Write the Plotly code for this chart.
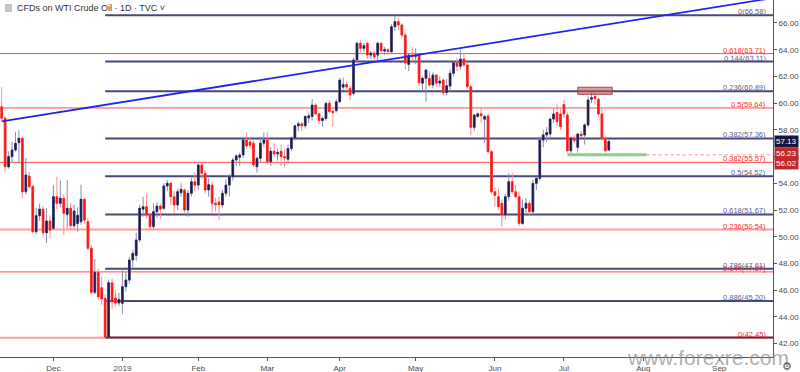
import pandas as pd
import plotly.graph_objects as go

# ---------------- data ----------------
# trading calendar (weekdays, without Christmas / New Year)
holidays = ["2018-12-25", "2019-01-01"]
dates = [d for d in pd.bdate_range("2018-11-12", "2019-10-31")
         if d.strftime("%Y-%m-%d") not in holidays]

opens = [59.73, 58.87, 55.24, 55.99, 56.49, 57.04, 57.37, 53.37, 54.55, 53.75,
         50.38, 51.58, 52.06, 50.30, 51.18, 50.63, 53.00, 52.50, 52.88, 51.68,
         52.13, 50.83, 51.00, 51.13, 52.80, 51.13, 49.14, 45.84, 47.34, 46.19,
         45.39, 42.50, 46.56, 45.41, 45.04, 45.02, 46.26, 46.76, 48.26, 48.60,
         49.76, 52.06, 52.25, 51.63, 50.76, 51.88, 52.30, 52.13, 53.80, 54.00,
         53.00, 52.38, 53.30, 53.50, 52.00, 53.25, 54.12, 53.87, 55.37, 54.75,
         53.50, 53.87, 52.50, 52.60, 52.38, 53.25, 53.87, 54.50, 55.75, 55.95,
         56.12, 57.24, 57.10, 57.00, 55.24, 55.87, 57.00, 57.24, 55.62, 56.40,
         56.20, 56.40, 56.00, 55.80, 56.60, 57.40, 58.30, 58.45, 58.30, 58.90,
         59.00, 59.86, 59.20, 58.70, 58.85, 59.99, 59.40, 59.44, 60.11, 61.20,
         61.40, 61.10, 60.74, 63.23, 64.48, 64.10, 64.48, 63.60, 63.75, 63.60,
         64.48, 63.90, 64.00, 63.85, 65.72, 66.10, 65.85, 65.10, 62.90, 63.60,
         63.50, 63.60, 61.49, 61.86, 61.86, 61.36, 62.10, 61.50, 61.73, 60.79,
         61.28, 62.23, 63.03, 62.76, 63.30, 62.86, 61.23, 58.19, 59.00, 59.20,
         58.80, 59.04, 56.37, 53.37, 53.00, 52.50, 51.63, 53.00, 54.12, 53.37,
         53.00, 51.00, 52.13, 52.50, 51.88, 54.00, 54.37, 57.24, 57.62, 57.69,
         58.81, 59.30, 59.19, 59.90, 59.11, 56.44, 57.37, 56.70, 57.69, 57.62,
         58.37, 60.30, 60.50, 60.29, 59.19, 57.37, 56.49]
highs = [61.20, 59.00, 56.40, 57.10, 57.86, 57.99, 57.50, 55.90, 54.85, 53.90,
         52.13, 52.50, 52.30, 52.13, 51.60, 53.87, 54.50, 54.20, 53.20, 54.25,
         52.50, 52.40, 52.20, 53.90, 52.90, 51.40, 49.40, 48.33, 47.60, 47.00,
         45.70, 46.80, 46.90, 46.00, 45.80, 47.60, 47.40, 48.50, 49.00, 50.30,
         52.40, 53.00, 53.25, 51.70, 52.50, 52.60, 52.50, 54.00, 54.25, 54.10,
         53.40, 53.60, 54.00, 53.60, 53.50, 54.40, 54.80, 55.60, 55.60, 55.00,
         54.40, 54.10, 52.90, 53.00, 53.50, 54.30, 54.70, 55.90, 56.20, 56.30,
         57.30, 57.80, 57.40, 57.20, 56.00, 57.50, 57.80, 57.86, 56.70, 57.00,
         56.60, 56.90, 56.60, 56.90, 57.50, 58.40, 58.60, 58.60, 59.10, 59.30,
         60.30, 60.00, 59.30, 59.00, 60.10, 60.20, 59.60, 60.30, 61.90, 61.90,
         61.60, 61.30, 63.40, 64.60, 64.70, 64.50, 64.60, 63.90, 63.90, 64.60,
         64.60, 64.20, 64.10, 65.90, 66.58, 66.40, 66.00, 65.30, 63.70, 64.20,
         64.10, 63.70, 62.00, 62.50, 62.40, 62.30, 62.20, 62.00, 61.90, 61.80,
         62.50, 63.20, 63.40, 64.00, 63.80, 63.00, 61.40, 59.20, 59.30, 59.70,
         59.10, 59.20, 56.50, 53.70, 53.60, 52.80, 53.20, 54.75, 54.80, 53.90,
         53.40, 52.80, 52.90, 52.70, 54.30, 54.50, 57.50, 58.00, 58.20, 58.90,
         59.60, 59.90, 59.60, 60.24, 59.30, 57.50, 57.60, 57.80, 57.90, 58.50,
         60.50, 60.81, 60.81, 60.40, 59.60, 57.50, 57.30]
lows = [58.70, 54.87, 55.10, 55.60, 56.37, 55.50, 52.90, 53.20, 53.60, 50.28,
        50.18, 51.20, 50.00, 49.53, 49.90, 50.50, 52.10, 52.20, 50.13, 50.63,
        50.50, 50.60, 50.40, 50.90, 51.00, 49.00, 45.70, 45.70, 45.30, 44.90,
        42.45, 42.45, 44.60, 44.77, 44.80, 44.20, 45.90, 46.50, 47.60, 48.20,
        49.60, 51.50, 51.40, 50.50, 50.60, 51.40, 51.30, 52.00, 53.40, 52.40,
        51.80, 52.00, 53.00, 51.80, 51.50, 53.00, 53.40, 53.50, 54.30, 53.20,
        53.00, 51.80, 51.90, 51.25, 52.20, 53.00, 53.00, 54.20, 55.30, 55.30,
        55.90, 56.60, 56.60, 55.20, 54.80, 55.60, 56.70, 55.40, 55.30, 56.00,
        55.70, 55.30, 55.20, 55.50, 56.40, 57.20, 57.90, 57.90, 58.10, 58.50,
        58.70, 59.10, 58.40, 58.24, 58.70, 59.20, 58.24, 59.30, 60.00, 61.00,
        60.90, 60.24, 60.60, 63.00, 63.80, 63.80, 63.30, 63.30, 63.20, 63.20,
        63.80, 63.60, 63.80, 63.70, 65.40, 65.50, 64.90, 62.50, 62.40, 63.00,
        62.90, 61.30, 60.90, 60.11, 61.20, 61.10, 61.20, 61.20, 60.60, 60.60,
        60.90, 62.00, 62.40, 62.50, 62.70, 61.10, 57.60, 57.90, 58.90, 58.50,
        57.00, 56.20, 53.20, 52.25, 52.00, 50.76, 51.30, 52.70, 53.20, 52.90,
        50.80, 50.90, 51.60, 51.60, 51.60, 53.50, 54.20, 56.70, 57.10, 57.20,
        58.50, 58.30, 58.00, 58.90, 56.30, 56.12, 57.00, 56.30, 57.40, 56.90,
        58.20, 60.00, 59.90, 59.00, 57.20, 56.29, 56.40]
closes = [58.87, 55.24, 56.00, 56.49, 56.99, 57.37, 53.37, 54.62, 53.75, 50.38,
          51.58, 52.06, 50.30, 51.18, 50.50, 53.00, 52.50, 52.88, 51.76, 52.13,
          50.83, 51.93, 51.60, 52.80, 51.25, 49.14, 45.84, 47.34, 45.51, 45.34,
          42.50, 46.56, 45.14, 45.04, 45.30, 46.26, 46.76, 48.26, 48.76, 49.76,
          52.13, 52.25, 51.63, 50.76, 51.88, 52.30, 52.07, 53.80, 54.00, 53.00,
          52.38, 53.37, 53.55, 52.00, 53.25, 54.12, 53.85, 55.37, 54.75, 53.50,
          53.90, 52.50, 52.40, 52.40, 53.25, 53.87, 54.50, 55.75, 56.05, 56.12,
          57.24, 56.79, 56.85, 55.37, 55.87, 57.00, 57.24, 55.62, 56.40, 56.20,
          56.30, 56.00, 55.90, 56.60, 57.40, 58.30, 58.45, 58.30, 59.00, 59.05,
          59.86, 59.20, 58.70, 58.85, 59.99, 59.37, 59.30, 60.10, 61.73, 61.40,
          61.20, 60.61, 63.23, 64.48, 64.10, 64.30, 63.60, 63.75, 63.45, 64.48,
          63.90, 64.00, 63.85, 65.72, 66.10, 65.85, 65.10, 63.00, 63.60, 63.50,
          63.60, 61.53, 61.86, 62.48, 61.36, 62.10, 61.50, 61.65, 60.79, 61.30,
          62.23, 63.03, 62.76, 63.30, 62.86, 61.23, 58.19, 59.11, 59.20, 59.05,
          59.00, 56.37, 53.37, 53.10, 52.25, 51.63, 53.00, 54.12, 53.37, 53.00,
          51.00, 52.13, 52.50, 51.88, 54.00, 54.37, 57.24, 57.62, 57.80, 58.81,
          59.19, 58.60, 58.24, 59.19, 56.44, 57.37, 57.20, 57.69, 57.55, 58.37,
          60.24, 60.40, 60.35, 59.19, 57.37, 56.44, 57.13]

# Fibonacci retracement (dark): 66.58 high -> 42.46 low
dark_ratios = ["0", "0.144", "0.236", "0.382", "0.5", "0.618", "0.786", "0.886"]
dark_levels = [66.58, 63.11, 60.89, 57.36, 54.52, 51.67, 47.61, 45.20]
dark_base = 42.46
dark_start_date = "2018-12-24"

# Fibonacci retracement (red)
red_ratios = ["0.618", "0.5", "0.382", "0.236", "0.144", "0"]
red_levels = [63.71, 59.64, 55.57, 50.54, 47.37, 42.45]

# trend line anchors (date, price)
trend_dates = ["2018-11-12", "2019-10-31"]
trend_prices = [58.63, 69.00]

# resistance box and support line
box_dates = ["2019-07-05", "2019-07-19"]
box_prices = [60.66, 61.19]
support_dates = ["2019-07-02", "2019-08-02"]
support_price = 56.13

# price scale labels
last_price = 57.13
marker_labels = ["56.23", "56.02"]
marker_prices = [56.23, 55.45]

x_start_date = "2018-11-12"

# ---------------- helpers ----------------
date_str = [d.strftime("%Y-%m-%d") for d in dates]
def idx(s):
    return date_str.index(s)

n = len(closes)
x = list(range(n))
x0 = idx(x_start_date) - 0.49
x1 = x0 + 224.1

tickvals, ticktext = [], []
for i in range(1, len(dates)):
    if dates[i].month != dates[i - 1].month and x0 <= i <= x1:
        tickvals.append(i)
        ticktext.append("2019" if dates[i].month == 1 else dates[i].strftime("%b"))

UP = "#1c1c52"
DOWN = "#ff1414"
UP_WICK = "#8c8cae"
DOWN_WICK = "#ff8c8c"

fig = go.Figure()

# wicks
fig.add_trace(go.Candlestick(
    x=x, open=opens, high=highs, low=lows, close=closes,
    increasing=dict(line=dict(color=UP_WICK, width=1), fillcolor=UP_WICK),
    decreasing=dict(line=dict(color=DOWN_WICK, width=1), fillcolor=DOWN_WICK),
    whiskerwidth=0, showlegend=False, hoverinfo="skip"))
# bodies
body_hi = [max(o, c) for o, c in zip(opens, closes)]
body_lo = [min(o, c) for o, c in zip(opens, closes)]
fig.add_trace(go.Candlestick(
    x=x, open=opens, high=body_hi, low=body_lo, close=closes,
    increasing=dict(line=dict(color=UP, width=0.6), fillcolor=UP),
    decreasing=dict(line=dict(color=DOWN, width=0.6), fillcolor=DOWN),
    whiskerwidth=0, showlegend=False))

# trend line
fig.add_trace(go.Scatter(
    x=[idx(d) for d in trend_dates], y=trend_prices, mode="lines",
    line=dict(color="#2222f0", width=1.8), showlegend=False, hoverinfo="skip"))

shapes = []
annotations = []
label_font = "Liberation Sans, Arial, sans-serif"
lab_x = 768 / 773

# red fib
thick_red = {50.54, 42.45}
for r, lv in zip(red_ratios, red_levels):
    thick = lv in thick_red
    shapes.append(dict(type="line", xref="paper", yref="y", x0=0, x1=1, y0=lv, y1=lv,
                       line=dict(color="#ff9c9c" if thick else "#ff4a4a",
                                 width=2 if thick else 1), layer="below"))
    annotations.append(dict(xref="paper", yref="y", x=lab_x, y=lv, xanchor="right",
                            yanchor="bottom", yshift=-3, showarrow=False,
                            text=f"{r}({lv:.2f})",
                            font=dict(size=7.5, color="#ff2a2a", family=label_font)))

# dark fib
ds = idx(dark_start_date)
for r, lv in zip(dark_ratios, dark_levels):
    shapes.append(dict(type="line", xref="x", yref="y", x0=ds, x1=x1 + 5, y0=lv, y1=lv,
                       line=dict(color="#48487a", width=2), layer="below"))
    annotations.append(dict(xref="paper", yref="y", x=lab_x, y=lv, xanchor="right",
                            yanchor="bottom", yshift=-3, showarrow=False,
                            text=f"{r}({lv:.2f})",
                            font=dict(size=7.5, color="#5e5e8e", family=label_font)))
shapes.append(dict(type="line", xref="x", yref="y", x0=ds, x1=x1 + 5, y0=dark_base, y1=dark_base,
                   line=dict(color="#5a2a4a", width=2), layer="below"))

# resistance box
shapes.append(dict(type="rect", xref="x", yref="y",
                   x0=idx(box_dates[0]), x1=idx(box_dates[1]),
                   y0=box_prices[0], y1=box_prices[1],
                   fillcolor="rgba(190,80,80,0.55)", line=dict(color="#a84848", width=1)))
# support line
sx0, sx1 = idx(support_dates[0]), idx(support_dates[1])
shapes.append(dict(type="line", xref="x", yref="y", x0=sx0, x1=sx1,
                   y0=support_price, y1=support_price,
                   line=dict(color="#86cf86", width=3)))
shapes.append(dict(type="line", xref="x", yref="y", x0=sx1, x1=x1 + 5,
                   y0=support_price, y1=support_price,
                   line=dict(color="#ff8a8a", width=1, dash="dot")))

# title icon
shapes.append(dict(type="rect", xref="paper", yref="paper",
                   x0=5 / 773, x1=12 / 773, y0=1 - 12 / 357, y1=1 - 4 / 357,
                   fillcolor="#c4c4c4", line=dict(width=0)))

annotations.append(dict(xref="paper", yref="paper", x=15 / 773, y=1 - 8 / 357,
                        xanchor="left", yanchor="middle", showarrow=False,
                        text="CFDs on WTI Crude Oil · 1D · TVC ˅",
                        font=dict(size=9, color="#333333", family=label_font)))

# price-scale markers
annotations.append(dict(xref="paper", yref="y", x=1.0, y=last_price, xanchor="left",
                        yanchor="middle", showarrow=False, text=f"{last_price:.2f}",
                        bgcolor="#16163e", borderpad=1, xshift=1,
                        font=dict(size=8, color="white", family=label_font)))
for t, p in zip(marker_labels, marker_prices):
    annotations.append(dict(xref="paper", yref="y", x=1.0, y=p, xanchor="left",
                            yanchor="middle", showarrow=False, text=t,
                            bgcolor="#c4282c", borderpad=1, xshift=1,
                            font=dict(size=8, color="white", family=label_font)))

# watermark and gear
annotations.append(dict(xref="paper", yref="paper", x=708 / 773, y=0,
                        xanchor="center", yanchor="middle", showarrow=False,
                        text="www.forexre.com",
                        font=dict(size=21, color="rgba(140,140,140,0.7)", family=label_font)))
annotations.append(dict(xref="paper", yref="paper", x=787 / 773, y=(357 - 366) / 357,
                        xanchor="center", yanchor="middle", showarrow=False,
                        text="⚙", font=dict(size=11, color="#555555")))

fig.update_layout(
    width=800, height=372, autosize=False,
    margin=dict(l=0, r=27, t=0, b=15, pad=0),
    paper_bgcolor="white", plot_bgcolor="white",
    shapes=shapes, annotations=annotations,
    xaxis=dict(range=[x0, x1], rangeslider=dict(visible=False), showgrid=False,
               zeroline=False, showline=True, linecolor="#555555", linewidth=1,
               tickvals=tickvals, ticktext=ticktext, ticks="outside", ticklen=3,
               tickcolor="#555555", automargin=False,
               tickfont=dict(size=8, color="#4a4a4a", family=label_font)),
    yaxis=dict(range=[41.0, 67.72], side="right", dtick=2, tickformat=".2f",
               showgrid=False, zeroline=False, showline=True, linecolor="#555555",
               linewidth=1, ticks="outside", ticklen=3, tickcolor="#555555",
               automargin=False,
               tickfont=dict(size=8, color="#4a4a4a", family=label_font)),
    showlegend=False,
)

fig.write_html("out.html",
               config={"displayModeBar": False},
               post_script="document.body.style.margin='0';document.body.style.padding='0';")
